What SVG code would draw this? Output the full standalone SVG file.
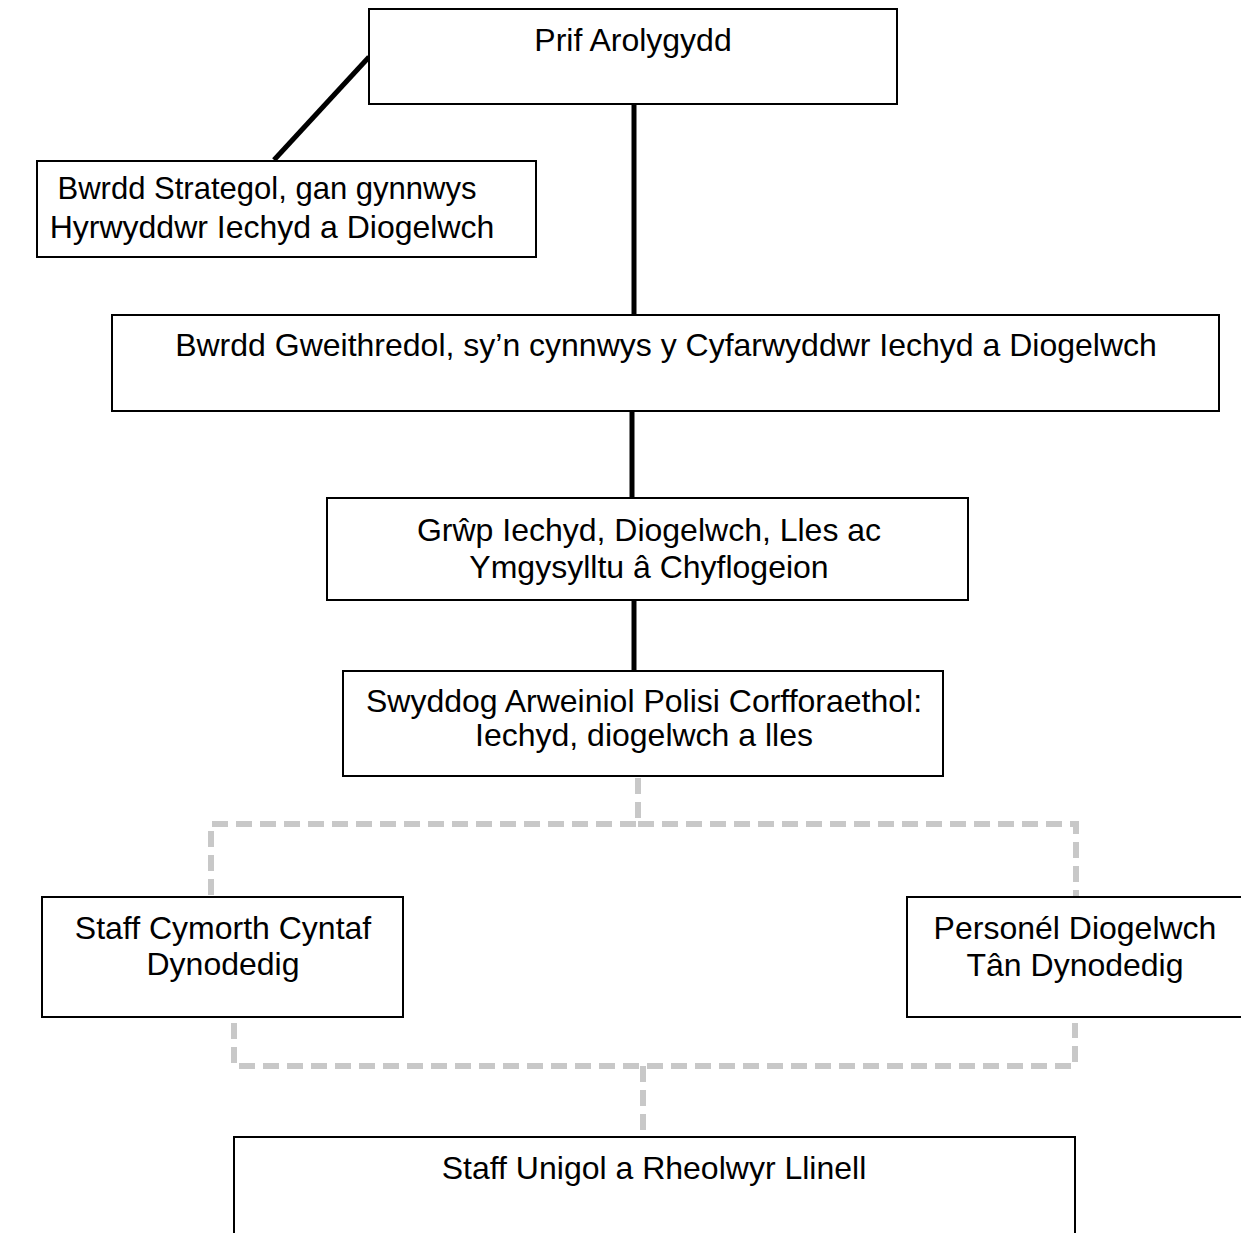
<svg xmlns="http://www.w3.org/2000/svg" width="1241" height="1233" viewBox="0 0 1241 1233">
<style>
.box{fill:#fff;stroke:#000;stroke-width:2}
.t{font-family:"Liberation Sans",Arial,sans-serif;font-size:32px;fill:#000;text-anchor:middle}
.solid{stroke:#000;stroke-width:5;fill:none}
.dash{stroke:#c8c8c8;stroke-width:6;fill:none;stroke-dasharray:16 8}
</style>
<rect width="1241" height="1233" fill="#fff"/>
<g id="connectors">
<line class="solid" x1="369" y1="57" x2="274" y2="160"/>
<line class="solid" x1="634" y1="104" x2="634" y2="316"/>
<line class="solid" x1="632" y1="411" x2="632" y2="498"/>
<line class="solid" x1="634" y1="600" x2="634" y2="671"/>
<path class="dash" d="M638 778 V824 H211 V897 M638 824 H1076 V897"/>
<path class="dash" d="M234 1023 V1066 H1075 V1023 M643 1066 V1134"/>
</g>
<g id="prif"><rect class="box" x="369" y="9" width="528" height="95"/><text class="t" x="633" y="51">Prif Arolygydd</text></g>
<g id="strategol"><rect class="box" x="37" y="161" width="499" height="96"/><text class="t" x="267" y="199" textLength="419" lengthAdjust="spacingAndGlyphs">Bwrdd Strategol, gan gynnwys</text><text class="t" x="272" y="238">Hyrwyddwr Iechyd a Diogelwch</text></g>
<g id="gweithredol"><rect class="box" x="112" y="315" width="1107" height="96"/><text class="t" x="666" y="356">Bwrdd Gweithredol, sy’n cynnwys y Cyfarwyddwr Iechyd a Diogelwch</text></g>
<g id="grwp"><rect class="box" x="327" y="498" width="641" height="102"/><text class="t" x="649" y="541">Grŵp Iechyd, Diogelwch, Lles ac</text><text class="t" x="649" y="578">Ymgysylltu â Chyflogeion</text></g>
<g id="swyddog"><rect class="box" x="343" y="671" width="600" height="105"/><text class="t" x="644" y="712">Swyddog Arweiniol Polisi Corfforaethol:</text><text class="t" x="644" y="746">Iechyd, diogelwch a lles</text></g>
<g id="cymorth"><rect class="box" x="42" y="897" width="361" height="120"/><text class="t" x="223" y="939">Staff Cymorth Cyntaf</text><text class="t" x="223" y="975">Dynodedig</text></g>
<g id="tan"><rect class="box" x="907" y="897" width="340" height="120"/><text class="t" x="1075" y="939">Personél Diogelwch</text><text class="t" x="1075" y="976">Tân Dynodedig</text></g>
<g id="unigol"><rect class="box" x="234" y="1137" width="841" height="110"/><text class="t" x="654" y="1179">Staff Unigol a Rheolwyr Llinell</text></g>
</svg>
